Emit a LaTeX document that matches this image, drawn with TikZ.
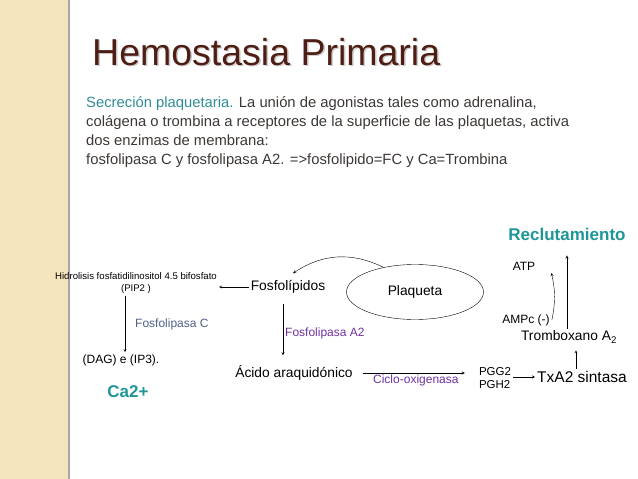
\documentclass[tikz,border=0pt]{standalone}
\usepackage{fontspec}
\setmainfont{Liberation Sans}
\usetikzlibrary{shapes.geometric}

\definecolor{stripebeige}{RGB}{245,229,188}
\definecolor{titlebrown}{RGB}{78,30,20}
\definecolor{bodygrey}{RGB}{60,55,52}
\definecolor{secteal}{RGB}{49,140,150}
\definecolor{boldteal}{RGB}{30,150,150}
\definecolor{enzslate}{RGB}{80,96,138}
\definecolor{enzpurple}{RGB}{112,48,160}

\tikzset{
  titletxt/.style={inner sep=0pt,anchor=base west,font=\fontsize{37.5}{40}\selectfont},
  paraline/.style={inner sep=0pt,anchor=base west,text=bodygrey,font=\fontsize{14.8}{19}\selectfont},
  mol/.style={inner sep=2pt,font=\fontsize{13.8}{16}\selectfont},
  enz/.style={inner sep=2pt,font=\fontsize{12}{14}\selectfont},
  tiny/.style={inner sep=2pt,align=center,font=\fontsize{9.6}{12.5}\selectfont},
  hilite/.style={inner sep=2pt,text=boldteal,font=\fontsize{17}{20}\selectfont\bfseries}
}

\begin{document}
\begin{tikzpicture}[x=1pt,y=-1pt,>=stealth]
      % \draw[help lines](0,0) grid (638,479);
      \useasboundingbox (0,0) rectangle (638,479);
      \fill[stripebeige] (0,0) rectangle (68,479);
      \draw[black!35,line width=2pt] (69,0) -- (69,479);

      \draw (93.5,66.5) node[titletxt,text=black!20] (titleshadow) {Hemostasia Primaria};
      \draw (92,65) node[titletxt,text=titlebrown] (title) {Hemostasia Primaria};

      \draw (86,107) node[paraline] (line1) {\textcolor{secteal}{Secreción plaquetaria.} La unión de agonistas tales como adrenalina,};
      \draw (86,126) node[paraline] (line2) {colágena o trombina a receptores de la superficie de las plaquetas, activa};
      \draw (86,145) node[paraline] (line3) {dos enzimas de membrana:};
      \draw (86,164) node[paraline] (line4) {fosfolipasa C y fosfolipasa A2. =>fosfolipido=FC y Ca=Trombina};

      \draw (415,292) node[mol,draw,ellipse,minimum width=137pt,minimum height=55pt] (plaqueta) {Plaqueta};
      \draw (288,287) node[mol] (fosfo) {Fosfolípidos};
      \draw (136,283) node[tiny] (pip) {Hidrolisis fosfatidilinositol 4.5 bifosfato\\(PIP2 )};
      \draw (121,360) node[enz] (dag) {(DAG) e (IP3).};
      \draw (128,392) node[hilite] (ca) {Ca2+};
      \draw (294,373) node[mol] (acido) {Ácido araquidónico};
      \draw (495,378) node[enz,align=left,font=\fontsize{11.5}{13}\selectfont] (pg) {PGG2\\PGH2};
      \draw (582,377) node[mol,font=\fontsize{15.5}{18}\selectfont] (txa) {TxA2 sintasa};
      \draw (569,337) node[mol] (trombo) {Tromboxano A\textsubscript{2}};
      \draw (567,234) node[hilite] (reclut) {Reclutamiento};
      \draw (524,266) node[enz] (atp) {ATP};
      \draw (526,320) node[enz] (ampc) {AMPc (-)};

      \draw [->] (plaqueta.142) to[bend right=30] ([shift={(5,-5)}]fosfo.north);
      \draw [->] (fosfo.west) -- (fosfo.west -| pip.east);
      \draw [->] ([xshift=4pt]dag.north |- pip.south) -- ([xshift=4pt]dag.north) node [midway,right=8pt,enz,text=enzslate] {Fosfolipasa C};
      \draw [->,shorten <=8pt,shorten >=8pt] ([xshift=-5pt]fosfo.south) -- ([xshift=-5pt]fosfo.south |- acido.north) node [pos=0.55,right,enz,text=enzpurple] {Fosfolipasa A2};
      \draw [->,shorten <=8pt,shorten >=12pt] (acido.east) -- (acido.east -| pg.west) node [midway,below,enz,text=enzpurple] {Ciclo-oxigenasa};
      \draw [->] (pg.east |- txa) -- (txa.west);
      \draw [->,shorten >=5pt] ([xshift=-6pt]txa.north) -- ([xshift=-6pt]txa.north |- trombo.south);
      \draw [->,shorten >=13pt] (trombo.north -| reclut) -- (reclut.south);
      \draw [->] (ampc.east) to[bend right=12] ([shift={(14,7)}]atp.east);
\end{tikzpicture}
\end{document}
